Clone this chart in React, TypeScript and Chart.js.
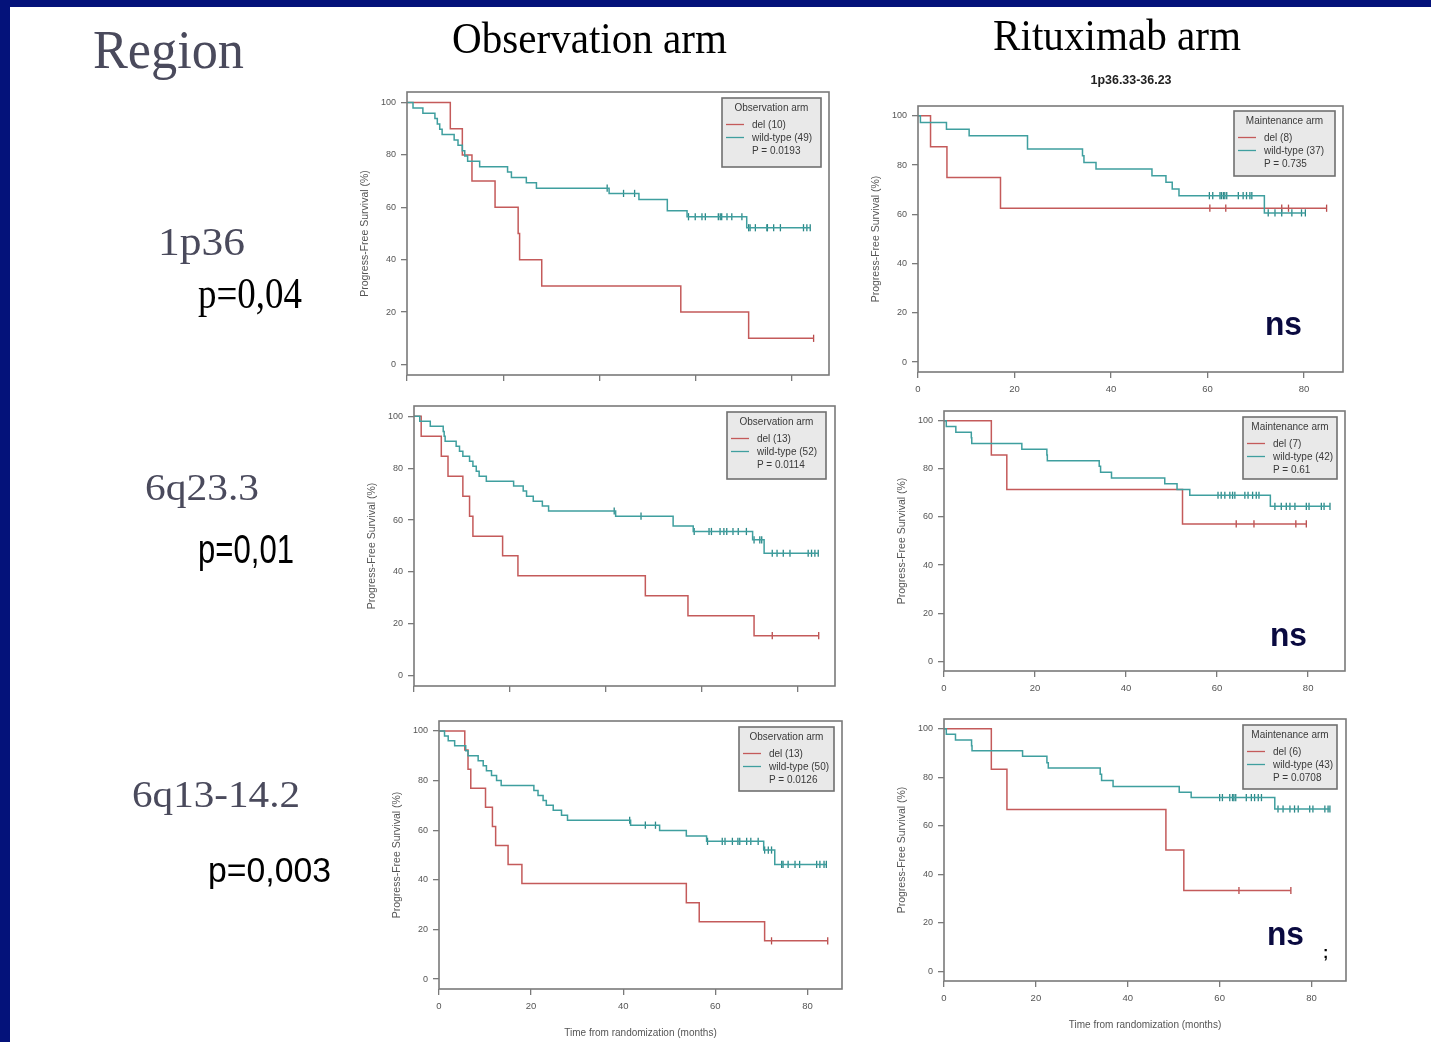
import React, { useEffect, useRef } from 'react';
import { Chart, registerables } from 'chart.js';

Chart.register(...registerables);
Chart.defaults.font.family = "'Liberation Sans', Arial, sans-serif";

// ---------- colours ----------
const NAVY = '#04127a';
const RED = '#c45a5a';
const TEAL = '#3f9f9f';
const RED_MARK = '#b84a4a';
const TEAL_MARK = '#2a8888';
const AXIS = '#7a7a7a';
const LABEL = '#555555';

// ---------- ticks ----------
const X_TICKS = [0, 20, 40, 60, 80];
const Y_TICKS = [0, 20, 40, 60, 80, 100];

// ---------- data (months, % PFS) ----------
// Observation arm, 1p36
const OBS_1P36_DEL_T = [0, 9.0, 11.5, 13.5, 18.3, 23.1, 23.4, 28.0, 56.9, 71.0];
const OBS_1P36_DEL_S = [100, 90, 80, 70, 60, 50, 40, 30, 20, 10];
const OBS_1P36_DEL_C = [84.5];
const OBS_1P36_WT_T = [0, 1.25, 3.3, 5.8, 6.3, 6.8, 7.3, 9.8, 10.6, 11.5, 12.0, 12.6, 15.1, 20.9, 21.7, 24.8, 26.9, 42.0, 48.2, 54.1, 58.2, 70.6];
const OBS_1P36_WT_S = [100, 97.9, 95.9, 93.9, 91.8, 89.8, 87.8, 85.7, 83.7, 81.6, 79.6, 77.6, 75.5, 73.5, 71.4, 69.4, 67.3, 65.3, 63.0, 58.7, 56.4, 52.2];
const OBS_1P36_WT_C = [41.6, 45.0, 47.3, 58.5, 59.9, 61.3, 62.0, 64.7, 65.1, 65.4, 66.5, 67.5, 69.6, 71.0, 71.3, 72.4, 74.8, 74.9, 76.2, 77.6, 82.4, 83.1, 83.8];

// Rituximab arm, 1p36
const RIT_1P36_DEL_T = [0, 2.6, 6.0, 17.1];
const RIT_1P36_DEL_S = [100, 87.5, 75, 62.5];
const RIT_1P36_DEL_C = [60.5, 63.8, 75.4, 76.8, 84.7];
const RIT_1P36_WT_T = [0, 0.5, 5.9, 10.6, 22.7, 34.1, 34.4, 36.9, 48.5, 51.4, 52.7, 54.1, 71.8];
const RIT_1P36_WT_S = [100, 97.3, 94.6, 91.9, 86.5, 83.8, 81.1, 78.4, 75.7, 73.0, 70.3, 67.6, 60.6];
const RIT_1P36_WT_C = [60.4, 61.1, 62.6, 62.9, 63.3, 63.6, 64.0, 66.4, 67.4, 68.1, 68.8, 69.2, 72.6, 74.0, 75.4, 77.5, 79.5, 80.3];

// Observation arm, 6q23.3
const OBS_6Q23_DEL_T = [0, 1.5, 5.7, 7.1, 10.2, 11.6, 12.3, 18.5, 21.7, 48.3, 57.2, 71.0];
const OBS_6Q23_DEL_S = [100, 92.3, 84.6, 76.9, 69.2, 61.5, 53.8, 46.2, 38.5, 30.8, 23.1, 15.4];
const OBS_6Q23_DEL_C = [74.8, 84.5];
const OBS_6Q23_WT_T = [0, 1.2, 3.4, 6.1, 6.3, 6.5, 8.8, 9.5, 10.2, 11.6, 12.3, 13.0, 13.6, 15.1, 20.8, 22.8, 23.5, 24.9, 26.8, 28.1, 42.1, 54.1, 58.3, 70.7, 73.1];
const OBS_6Q23_WT_S = [100, 98.1, 96.2, 94.2, 92.3, 90.4, 88.5, 86.5, 84.6, 82.7, 80.8, 78.8, 76.9, 75.0, 73.1, 71.2, 69.2, 67.3, 65.4, 63.5, 61.5, 57.7, 55.6, 52.4, 47.2];
const OBS_6Q23_WT_C = [41.8, 47.4, 58.5, 61.6, 62.1, 63.9, 64.7, 65.3, 66.6, 67.7, 69.4, 71.0, 72.2, 72.6, 74.8, 75.8, 77.1, 78.5, 82.3, 83.0, 83.7, 84.4];

// Rituximab arm, 6q23.3
const RIT_6Q23_DEL_T = [0, 10.4, 13.8, 52.4];
const RIT_6Q23_DEL_S = [100, 85.7, 71.4, 57.1];
const RIT_6Q23_DEL_C = [64.2, 68.1, 77.3, 79.6];
const RIT_6Q23_WT_T = [0, 0.5, 2.6, 6.0, 6.1, 17.1, 22.6, 22.7, 34.1, 34.4, 36.8, 48.5, 51.2, 54.0, 71.7];
const RIT_6Q23_WT_S = [100, 97.6, 95.2, 92.9, 90.5, 88.1, 85.7, 83.3, 81.0, 78.6, 76.2, 73.8, 71.4, 69.0, 64.4];
const RIT_6Q23_WT_C = [60.2, 60.9, 61.7, 62.8, 63.4, 63.9, 66.1, 66.8, 67.8, 68.6, 69.2, 72.7, 74.1, 75.2, 76.0, 77.1, 79.6, 80.2, 82.9, 83.5, 84.8];

// Observation arm, 6q13-14.2
const OBS_6Q13_DEL_T = [0, 5.6, 6.3, 6.9, 10.1, 11.6, 12.3, 15.0, 18.0, 53.7, 56.5, 70.7];
const OBS_6Q13_DEL_S = [100, 92.3, 84.6, 76.9, 69.2, 61.5, 53.8, 46.2, 38.5, 30.8, 23.1, 15.4];
const OBS_6Q13_DEL_C = [72.2, 84.4];
const OBS_6Q13_WT_T = [0, 1.2, 2.0, 3.4, 5.8, 6.3, 8.5, 9.6, 10.3, 11.4, 12.5, 13.5, 20.6, 21.5, 22.6, 23.3, 24.8, 26.6, 27.9, 41.6, 47.9, 53.7, 58.1, 70.5, 72.9];
const OBS_6Q13_WT_S = [100, 98, 96, 94, 92, 90, 88, 86, 84, 82, 80, 78, 76, 74, 72, 70, 68, 66, 64, 62, 59.9, 57.7, 55.5, 52.0, 46.2];
const OBS_6Q13_WT_C = [41.4, 44.8, 47.0, 58.3, 61.5, 62.1, 63.7, 64.9, 65.3, 66.8, 67.7, 69.3, 70.7, 71.5, 72.2, 74.4, 74.7, 75.8, 77.3, 78.3, 82.0, 82.7, 83.6, 84.1];

// Rituximab arm, 6q13-14.2
const RIT_6Q13_DEL_T = [0, 10.3, 13.7, 48.3, 52.2];
const RIT_6Q13_DEL_S = [100, 83.3, 66.7, 50.0, 33.3];
const RIT_6Q13_DEL_C = [64.2, 75.5];
const RIT_6Q13_WT_T = [0, 0.5, 2.5, 6.0, 6.1, 17.1, 22.4, 22.7, 34.0, 34.3, 36.8, 51.2, 53.8, 72.0];
const RIT_6Q13_WT_S = [100, 97.7, 95.3, 93.0, 90.9, 88.6, 86.0, 83.8, 81.2, 78.6, 76.2, 73.8, 71.6, 66.9];
const RIT_6Q13_WT_C = [60.0, 60.6, 62.2, 62.8, 63.1, 63.5, 65.8, 66.9, 67.6, 68.4, 69.1, 72.7, 73.8, 75.3, 76.3, 77.1, 79.6, 80.3, 82.9, 83.6, 84.0];

// ---------- legend texts ----------
const LEGEND_TITLES = ['Observation arm', 'Maintenance arm', 'Observation arm', 'Maintenance arm', 'Observation arm', 'Maintenance arm'];
const DEL_LABELS = ['del (10)', 'del (8)', 'del (13)', 'del (7)', 'del (13)', 'del (6)'];
const WT_LABELS = ['wild-type (49)', 'wild-type (37)', 'wild-type (52)', 'wild-type (42)', 'wild-type (50)', 'wild-type (43)'];
const P_LABELS = ['P = 0.0193', 'P = 0.735', 'P = 0.0114', 'P = 0.61', 'P = 0.0126', 'P = 0.0708'];

const Y_TITLE = 'Progress-Free Survival (%)';
const X_TITLE = 'Time from randomization (months)';

// ---------- helpers ----------
type Curve = { t: number[]; s: number[]; c: number[] };

function stepData(cv: Curve) {
  const pts = cv.t.map((x, i) => ({ x, y: cv.s[i] }));
  const end = Math.max(cv.t[cv.t.length - 1], ...cv.c);
  pts.push({ x: end, y: cv.s[cv.s.length - 1] });
  return pts;
}
function survAt(cv: Curve, x: number) {
  let v = cv.s[0];
  for (let i = 0; i < cv.t.length; i++) if (cv.t[i] <= x) v = cv.s[i];
  return v;
}
function censorData(cv: Curve) {
  return cv.c.map((x) => ({ x, y: survAt(cv, x) }));
}

// ---------- layout ----------
const YW = 60; // y-axis band width
const XH = 50; // x-axis band height
const PT = 6;
const PR = 6;

type Panel = {
  del: Curve;
  wt: Curve;
  box: { l: number; t: number; w: number; h: number };
  xmax: number;
  xLabels: boolean;
  xTitle: boolean;
  legend: { l: number; t: number; w: number; h: number };
};

const PANELS: Panel[] = [
  {
    del: { t: OBS_1P36_DEL_T, s: OBS_1P36_DEL_S, c: OBS_1P36_DEL_C },
    wt: { t: OBS_1P36_WT_T, s: OBS_1P36_WT_S, c: OBS_1P36_WT_C },
    box: { l: 407, t: 92, w: 422, h: 283 }, xmax: 87.7, xLabels: false, xTitle: false,
    legend: { l: 722, t: 98, w: 99, h: 69 },
  },
  {
    del: { t: RIT_1P36_DEL_T, s: RIT_1P36_DEL_S, c: RIT_1P36_DEL_C },
    wt: { t: RIT_1P36_WT_T, s: RIT_1P36_WT_S, c: RIT_1P36_WT_C },
    box: { l: 918, t: 106, w: 425, h: 266 }, xmax: 88.1, xLabels: true, xTitle: false,
    legend: { l: 1234, t: 111, w: 101, h: 65 },
  },
  {
    del: { t: OBS_6Q23_DEL_T, s: OBS_6Q23_DEL_S, c: OBS_6Q23_DEL_C },
    wt: { t: OBS_6Q23_WT_T, s: OBS_6Q23_WT_S, c: OBS_6Q23_WT_C },
    box: { l: 414, t: 406, w: 421, h: 280 }, xmax: 87.9, xLabels: false, xTitle: false,
    legend: { l: 727, t: 412, w: 99, h: 67 },
  },
  {
    del: { t: RIT_6Q23_DEL_T, s: RIT_6Q23_DEL_S, c: RIT_6Q23_DEL_C },
    wt: { t: RIT_6Q23_WT_T, s: RIT_6Q23_WT_S, c: RIT_6Q23_WT_C },
    box: { l: 944, t: 411, w: 401, h: 260 }, xmax: 88.1, xLabels: true, xTitle: false,
    legend: { l: 1243, t: 417, w: 94, h: 62 },
  },
  {
    del: { t: OBS_6Q13_DEL_T, s: OBS_6Q13_DEL_S, c: OBS_6Q13_DEL_C },
    wt: { t: OBS_6Q13_WT_T, s: OBS_6Q13_WT_S, c: OBS_6Q13_WT_C },
    box: { l: 439, t: 721, w: 403, h: 268 }, xmax: 87.5, xLabels: true, xTitle: true,
    legend: { l: 739, t: 727, w: 95, h: 64 },
  },
  {
    del: { t: RIT_6Q13_DEL_T, s: RIT_6Q13_DEL_S, c: RIT_6Q13_DEL_C },
    wt: { t: RIT_6Q13_WT_T, s: RIT_6Q13_WT_S, c: RIT_6Q13_WT_C },
    box: { l: 944, t: 719, w: 402, h: 262 }, xmax: 87.5, xLabels: true, xTitle: true,
    legend: { l: 1243, t: 725, w: 94, h: 64 },
  },
];

const framePlugin = {
  id: 'frame',
  afterDraw(chart: any) {
    const { ctx, chartArea } = chart;
    const { left, top, right, bottom } = chartArea;
    ctx.save();
    ctx.strokeStyle = AXIS;
    ctx.lineWidth = 1.6;
    ctx.strokeRect(left, top, right - left, bottom - top);
    ctx.restore();
  },
};

function fixBand(dim: 'width' | 'height', size: number) {
  return (ax: any) => {
    ax[dim] = size;
    ax.paddingLeft = 0;
    ax.paddingRight = 0;
    ax.paddingTop = 0;
    ax.paddingBottom = 0;
  };
}

function KMChart({ panel }: { panel: Panel }) {
  const ref = useRef<HTMLCanvasElement>(null);
  const W = YW + panel.box.w + PR;
  const H = PT + panel.box.h + XH;
  useEffect(() => {
    const chart = new Chart(ref.current as HTMLCanvasElement, {
      type: 'line',
      data: {
        datasets: [
          { type: 'line', data: stepData(panel.wt), stepped: true, borderColor: TEAL, borderWidth: 1.5, pointRadius: 0, fill: false } as any,
          { type: 'line', data: stepData(panel.del), stepped: true, borderColor: RED, borderWidth: 1.5, pointRadius: 0, fill: false } as any,
          { type: 'scatter', data: censorData(panel.wt), showLine: false, pointStyle: 'line', pointRotation: 90, pointRadius: 3.6, pointBorderWidth: 1.3, pointBorderColor: TEAL_MARK, borderColor: TEAL_MARK } as any,
          { type: 'scatter', data: censorData(panel.del), showLine: false, pointStyle: 'line', pointRotation: 90, pointRadius: 3.6, pointBorderWidth: 1.3, pointBorderColor: RED_MARK, borderColor: RED_MARK } as any,
        ],
      },
      options: {
        animation: false,
        responsive: false,
        maintainAspectRatio: false,
        layout: { padding: { top: PT, right: PR, left: 0, bottom: 0 } },
        plugins: { legend: { display: false }, tooltip: { enabled: false } },
        scales: {
          x: {
            type: 'linear',
            min: 0,
            max: panel.xmax,
            afterBuildTicks: (ax: any) => { ax.ticks = X_TICKS.map((v) => ({ value: v })); },
            afterFit: fixBand('height', XH),
            grid: { drawOnChartArea: false, drawTicks: true, tickLength: 6, color: AXIS, lineWidth: 1.3 },
            border: { display: false },
            ticks: { display: panel.xLabels, color: LABEL, font: { size: 9.5 }, padding: 6, maxRotation: 0, autoSkip: false },
            title: { display: panel.xTitle, text: X_TITLE, color: LABEL, font: { size: 10 }, padding: { top: 0, bottom: 0 } },
          },
          y: {
            type: 'linear',
            min: -4,
            max: 104,
            afterBuildTicks: (ax: any) => { ax.ticks = Y_TICKS.map((v) => ({ value: v })); },
            afterFit: fixBand('width', YW),
            grid: { drawOnChartArea: false, drawTicks: true, tickLength: 6, color: AXIS, lineWidth: 1.3 },
            border: { display: false },
            ticks: { color: LABEL, font: { size: 9 }, padding: 5, autoSkip: false },
            title: { display: true, text: Y_TITLE, color: LABEL, font: { size: 10.5 }, padding: { top: 12, bottom: 0 } },
          },
        },
      } as any,
      plugins: [framePlugin],
    });
    return () => chart.destroy();
  }, []);
  return (
    <canvas
      ref={ref}
      width={W}
      height={H}
      style={{ position: 'absolute', left: panel.box.l - YW, top: panel.box.t - PT, width: W, height: H }}
    />
  );
}

function Legend({ i }: { i: number }) {
  const b = PANELS[i].legend;
  const fs = 10;
  return (
    <g fontFamily="'Liberation Sans', Arial, sans-serif" fontSize={fs} fill="#3a3a3a">
      <rect x={b.l} y={b.t} width={b.w} height={b.h} fill="#e9e9e9" stroke="#707070" strokeWidth={1.6} />
      <text x={b.l + b.w / 2} y={b.t + 9.5} textAnchor="middle" dominantBaseline="central">{LEGEND_TITLES[i]}</text>
      <line x1={b.l + 4} x2={b.l + 22} y1={b.t + 26.5} y2={b.t + 26.5} stroke={RED} strokeWidth={1.3} />
      <text x={b.l + 30} y={b.t + 26.5} dominantBaseline="central">{DEL_LABELS[i]}</text>
      <line x1={b.l + 4} x2={b.l + 22} y1={b.t + 39.5} y2={b.t + 39.5} stroke={TEAL} strokeWidth={1.3} />
      <text x={b.l + 30} y={b.t + 39.5} dominantBaseline="central">{WT_LABELS[i]}</text>
      <text x={b.l + 30} y={b.t + 52} dominantBaseline="central">{P_LABELS[i]}</text>
    </g>
  );
}

const SERIF = "'Liberation Serif', 'DejaVu Serif', serif";
const SANS = "'Liberation Sans', Arial, sans-serif";
const GRAYTXT = '#4a4a5c';
const NS_COLOR = '#0a0a40';

export default function App() {
  return (
    <div style={{ position: 'absolute', left: 0, top: 0, width: 1431, height: 1042, overflow: 'hidden', background: '#ffffff' }}>
      {PANELS.map((p, i) => (
        <KMChart key={i} panel={p} />
      ))}
      <svg width={1431} height={1042} style={{ position: 'absolute', left: 0, top: 0, pointerEvents: 'none' }}>
        <rect x={0} y={0} width={1431} height={7} fill={NAVY} />
        <rect x={0} y={0} width={10} height={1042} fill={NAVY} />

        <text x={93} y={68} fontFamily={SERIF} fontSize={55} fill={GRAYTXT} textLength={151} lengthAdjust="spacingAndGlyphs">Region</text>
        <text x={452} y={53} fontFamily={SERIF} fontSize={44} fill="#000" textLength={275} lengthAdjust="spacingAndGlyphs">Observation arm</text>
        <text x={993} y={50} fontFamily={SERIF} fontSize={44} fill="#000" textLength={248} lengthAdjust="spacingAndGlyphs">Rituximab arm</text>
        <text x={1131} y={84} fontFamily={SANS} fontSize={12} fontWeight="bold" fill="#222" textAnchor="middle" textLength={81} lengthAdjust="spacingAndGlyphs">1p36.33-36.23</text>

        <text x={158} y={255} fontFamily={SERIF} fontSize={40} fill={GRAYTXT} textLength={87} lengthAdjust="spacingAndGlyphs">1p36</text>
        <text x={198} y={308} fontFamily={SERIF} fontSize={44} fill="#000" textLength={104} lengthAdjust="spacingAndGlyphs">p=0,04</text>
        <text x={145} y={500} fontFamily={SERIF} fontSize={38} fill={GRAYTXT} textLength={114} lengthAdjust="spacingAndGlyphs">6q23.3</text>
        <text x={198} y={563} fontFamily={SANS} fontSize={40} fill="#000" textLength={96} lengthAdjust="spacingAndGlyphs">p=0,01</text>
        <text x={132} y={807} fontFamily={SERIF} fontSize={38} fill={GRAYTXT} textLength={168} lengthAdjust="spacingAndGlyphs">6q13-14.2</text>
        <text x={208} y={882} fontFamily={SANS} fontSize={35} fill="#000" textLength={123} lengthAdjust="spacingAndGlyphs">p=0,003</text>

        {PANELS.map((_, i) => (
          <Legend key={i} i={i} />
        ))}

        <text x={1265} y={335} fontFamily={SANS} fontSize={33} fontWeight="bold" fill={NS_COLOR} textLength={37} lengthAdjust="spacingAndGlyphs">ns</text>
        <text x={1270} y={646} fontFamily={SANS} fontSize={33} fontWeight="bold" fill={NS_COLOR} textLength={37} lengthAdjust="spacingAndGlyphs">ns</text>
        <text x={1267} y={945} fontFamily={SANS} fontSize={33} fontWeight="bold" fill={NS_COLOR} textLength={37} lengthAdjust="spacingAndGlyphs">ns</text>
        <text x={1323} y={958} fontFamily={SANS} fontSize={16} fontWeight="bold" fill="#000">;</text>
      </svg>
    </div>
  );
}
